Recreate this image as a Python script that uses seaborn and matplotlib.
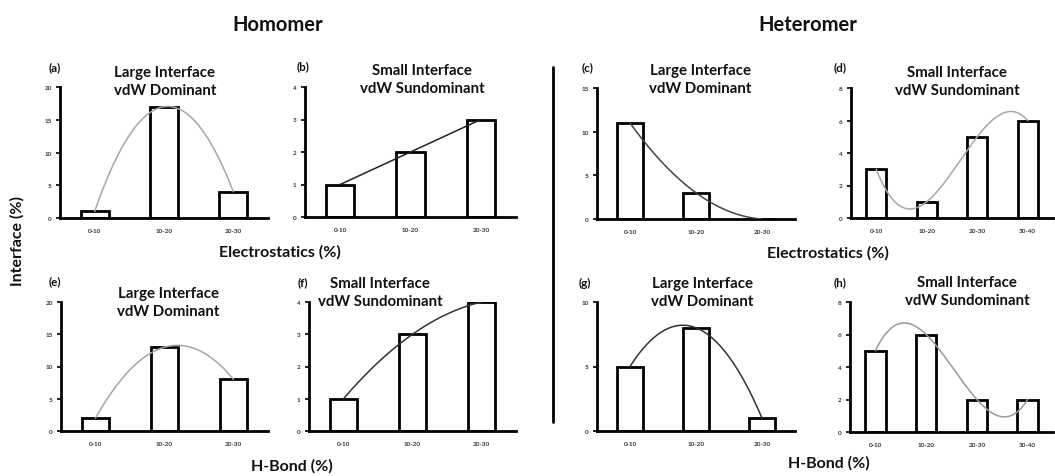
import numpy as np
import pandas as pd
import matplotlib
matplotlib.use("Agg")
import matplotlib.pyplot as plt
import seaborn as sns

sns.set_theme(style="white")
plt.rcParams['font.family'] = ['Lato', 'DejaVu Sans']

# ---------------- data ----------------
cats3 = ["0-10", "10-20", "20-30"]
cats4 = ["0-10", "10-20", "20-30", "30-40"]

vals_a = [1, 17, 4]
vals_b = [1, 2, 3]
vals_c = [11, 3, 0]
vals_d = [3, 1, 5, 6]
vals_e = [2, 13, 8]
vals_f = [1, 3, 4]
vals_g = [5, 8, 1]
vals_h = [5, 6, 2, 2]

ymax = [20, 4, 15, 8, 20, 4, 10, 8]
ystep = [5, 1, 5, 2, 5, 1, 5, 2]
trend_deg = [2, 1, 2, 3, 2, 2, 2, 3]
panel_labels = ["(a)", "(b)", "(c)", "(d)", "(e)", "(f)", "(g)", "(h)"]
large_title = "Large Interface\nvdW Dominant"
small_title = "Small Interface\nvdW Sundominant"
titles = [large_title, small_title, large_title, small_title,
          large_title, small_title, large_title, small_title]

# ---------------- layout ----------------
W, H = 1055, 477
fig = plt.figure(figsize=(W / 100, H / 100), dpi=100)
fig.patch.set_facecolor("white")

def rect(l, t, r, b):
    return [l / W, 1 - b / H, (r - l) / W, (b - t) / H]

def ftext(x, y, s, **kw):
    fig.text(x / W, 1 - y / H, s, **kw)

boxes = [(60, 88, 268, 219), (305, 88, 516, 218), (597, 89, 795, 220), (851, 89, 1053, 219),
         (61, 303, 268, 432), (309, 303, 516, 432), (597, 303, 795, 432), (850, 303, 1053, 433)]
xmax = [2.5, 2.5, 2.5, 3.31, 2.5, 2.5, 2.5, 3.31]
curve_col = ["#a6a6a6", "#222222", "#444444", "#a6a6a6", "#a6a6a6", "#333333", "#333333", "#999999"]
title_pos = [(165, 82), (422, 80), (700, 80), (957, 82), (168, 303), (380, 293), (702, 293), (967, 292)]
label_pos = [(55, 68), (303, 67), (588, 68), (840, 68), (55, 282), (303, 283), (585, 283), (840, 283)]

all_vals = [vals_a, vals_b, vals_c, vals_d, vals_e, vals_f, vals_g, vals_h]
all_cats = [cats3, cats3, cats3, cats4, cats3, cats3, cats3, cats4]

for i in range(8):
    ax = fig.add_axes(rect(*boxes[i]))
    ax.set_facecolor("none")
    df = pd.DataFrame({"cat": all_cats[i], "val": all_vals[i]})
    sns.barplot(data=df, x="cat", y="val", color="white", edgecolor="black",
                linewidth=2, width=0.4, saturation=1, ax=ax, zorder=2)
    n = len(all_cats[i])
    xs = np.arange(n)
    coef = np.polyfit(xs, all_vals[i], trend_deg[i])
    xf = np.linspace(0, n - 1, 200)
    ax.plot(xf, np.polyval(coef, xf), color=curve_col[i], lw=1.1, zorder=3)
    ax.set_xlim(-0.5, xmax[i])
    ax.set_ylim(0, ymax[i])
    ax.set_yticks(np.arange(0, ymax[i] + 0.01, ystep[i]))
    ax.set_xlabel("")
    ax.set_ylabel("")
    for s in ["top", "right"]:
        ax.spines[s].set_visible(False)
    for s in ["left", "bottom"]:
        ax.spines[s].set_linewidth(2)
        ax.spines[s].set_color("black")
    ax.set_xticks(np.arange(n) + 0.5, minor=True)
    ax.tick_params(axis="x", which="major", length=0, labelsize=4.6, pad=7)
    ax.tick_params(axis="x", which="minor", length=3, width=1.2, direction="inout", color="black")
    ax.tick_params(axis="y", which="major", length=3, width=1.2, direction="out",
                   labelsize=4.6, pad=3, color="black", left=True)
    for lab in ax.get_xticklabels() + ax.get_yticklabels():
        lab.set_fontweight("bold")
        lab.set_color("#333333")
    ftext(*title_pos[i], titles[i], ha="center", va="center", fontsize=10.8,
          fontweight="bold", linespacing=1.35, color="#111111")
    ftext(*label_pos[i], panel_labels[i], ha="center", va="center", fontsize=8.5,
          fontweight="bold", color="#111111")

# headings and axis titles
ftext(278, 25, "Homomer", ha="center", va="center", fontsize=14.5, fontweight="bold", color="#111111")
ftext(808, 25, "Heteromer", ha="center", va="center", fontsize=14.5, fontweight="bold", color="#111111")
ftext(280, 252, "Electrostatics (%)", ha="center", va="center", fontsize=11.5, fontweight="bold", color="#111111")
ftext(828, 253, "Electrostatics (%)", ha="center", va="center", fontsize=11.5, fontweight="bold", color="#111111")
ftext(292, 466, "H-Bond (%)", ha="center", va="center", fontsize=11.5, fontweight="bold", color="#111111")
ftext(829, 463, "H-Bond (%)", ha="center", va="center", fontsize=11.5, fontweight="bold", color="#111111")
ftext(17, 241, "Interface (%)", ha="center", va="center", fontsize=11.5, fontweight="bold",
      rotation=90, color="#111111")

# divider
fig.add_artist(plt.Line2D([553 / W, 553 / W], [1 - 68 / H, 1 - 423 / H], color="black",
                          lw=2, transform=fig.transFigure))

fig.savefig("out.png", dpi=100, facecolor="white")
